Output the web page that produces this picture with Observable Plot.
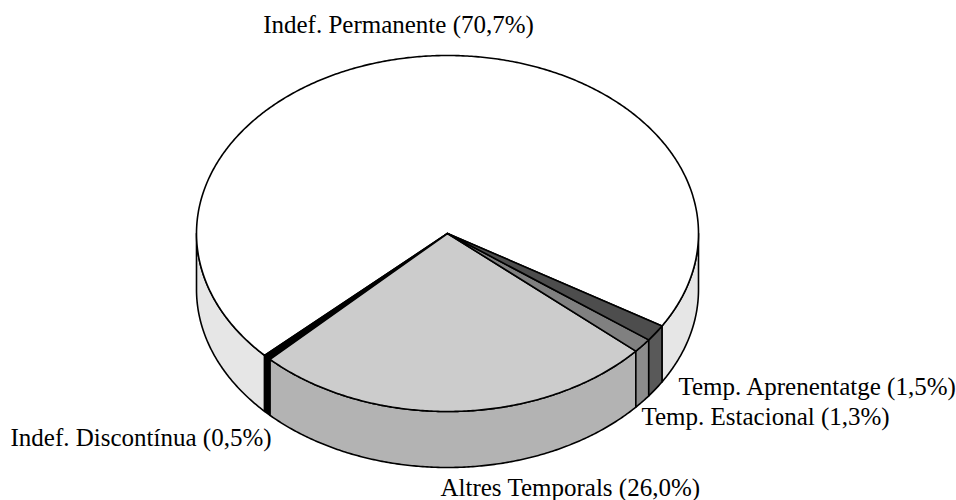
<!DOCTYPE html>
<html><head><meta charset="utf-8">
<script src="https://cdn.jsdelivr.net/npm/d3@7"></script>
<script src="https://cdn.jsdelivr.net/npm/@observablehq/plot@0.6"></script>
<style>body{margin:0;background:#fff}</style>
</head><body><div id="chart"></div>
<script>
// ---- data ----
const categories = ["Indef. Permanente", "Indef. Discontínua", "Altres Temporals", "Temp. Estacional", "Temp. Aprenentatge"];
const values = [70.7, 0.5, 26.0, 1.3, 1.5];
const valueLabels = ["70,7%", "0,5%", "26,0%", "1,3%", "1,5%"];
const topColors = ["#ffffff", "#000000", "#cccccc", "#808080", "#4d4d4d"];
const sideColors = ["#e6e6e6", "#000000", "#b3b3b3", "#8c8c8c", "#595959"];

// ---- layout ----
const W = 956, H = 500;
const cx = 447, cy = 233, rx = 251, ry = 178, depth = 56;
const startDeg = 31.3; // where the first slice begins (clockwise end)
const labelLayout = [
  {x: 398, y: 24, anchor: "middle"},
  {x: 10, y: 437, anchor: "start"},
  {x: 440, y: 487, anchor: "start"},
  {x: 641, y: 416, anchor: "start"},
  {x: 678, y: 386, anchor: "start"}
];

const total = d3.sum(values);
const rad = d => d * Math.PI / 180;
const px = t => cx + rx * Math.cos(rad(t));
const py = (t, dz = 0) => cy + ry * Math.sin(rad(t)) + dz;

let cum = 0;
const slices = values.map((v, i) => {
  const hi = startDeg + 360 - cum / total * 360;
  cum += v;
  const lo = startDeg + 360 - cum / total * 360;
  return {i, lo, hi};
});

function arc(a, b, dz = 0) {
  const n = Math.max(2, Math.ceil(Math.abs(b - a) / 0.5));
  const pts = [];
  for (let k = 0; k <= n; k++) {
    const t = a + (b - a) * k / n;
    pts.push({x: px(t), y: py(t, dz)});
  }
  return pts;
}

const marks = [];
const sw = 1.6;
// sides (front half: angles 0..180 mod 360)
for (const s of slices) {
  for (const [f0, f1] of [[0, 180], [360, 540]]) {
    const a = Math.max(s.lo, f0), b = Math.min(s.hi, f1);
    if (b > a) {
      const pts = [...arc(a, b, 0), ...arc(b, a, depth)];
      marks.push(Plot.line(pts, {x: "x", y: "y", curve: "linear-closed", fill: sideColors[s.i], stroke: "black", strokeWidth: sw, strokeLinejoin: "round"}));
    }
  }
}
// tops
for (const s of slices) {
  const pts = [{x: cx, y: cy}, ...arc(s.lo, s.hi, 0)];
  marks.push(Plot.line(pts, {x: "x", y: "y", curve: "linear-closed", fill: topColors[s.i], stroke: "black", strokeWidth: sw, strokeLinejoin: "round"}));
}
// labels
const labels = categories.map((c, i) => ({text: `${c} (${valueLabels[i]})`, ...labelLayout[i]}));
for (const l of labels) {
  marks.push(Plot.text([l], {x: "x", y: "y", text: "text", textAnchor: l.anchor, lineAnchor: "middle", fontSize: 25, fontFamily: "Liberation Serif, Times New Roman, serif", fill: "black"}));
}

const chart = Plot.plot({
  width: W, height: H,
  marginTop: 0, marginRight: 0, marginBottom: 0, marginLeft: 0,
  x: {domain: [0, W], range: [0, W], axis: null},
  y: {domain: [0, H], range: [0, H], axis: null},
  style: {background: "white", overflow: "visible"},
  marks
});
document.getElementById("chart").appendChild(chart);
</script>
</body></html>
